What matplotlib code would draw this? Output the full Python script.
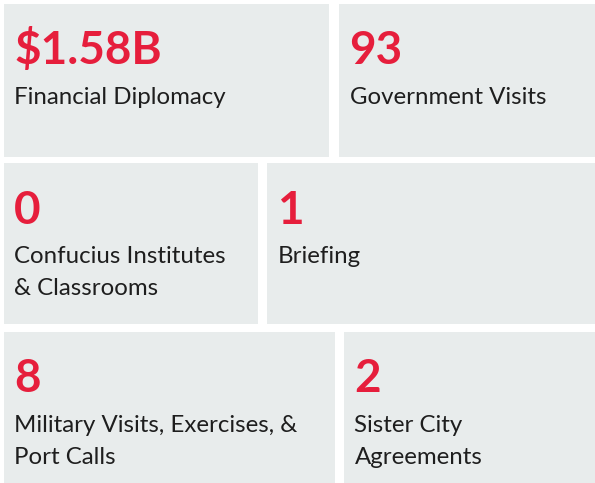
import matplotlib.pyplot as plt
from matplotlib.patches import Rectangle

values = ["$1.58B", "93", "0", "1", "8", "2"]
labels = [
    ["Financial Diplomacy"],
    ["Government Visits"],
    ["Confucius Institutes", "& Classrooms"],
    ["Briefing"],
    ["Military Visits, Exercises, &", "Port Calls"],
    ["Sister City", "Agreements"],
]

# tile boxes in pixels: x, y (from top), width, height
tiles = [
    (4, 4, 325, 153), (339, 4, 256, 153),
    (4, 163, 254, 161), (267, 163, 328, 161),
    (4, 332, 331, 151), (344, 332, 251, 151),
]

RED = "#E61E3C"
GRAY = "#E8ECEC"
TEXT = "#1E1E1E"

plt.rcParams['font.family'] = ['Lato', 'DejaVu Sans']

fig = plt.figure(figsize=(5.95, 4.83), dpi=100)
ax = fig.add_axes([0, 0, 1, 1])
ax.set_xlim(0, 595)
ax.set_ylim(483, 0)
ax.axis("off")

for (x, y, w, h), val, lines in zip(tiles, values, labels):
    ax.add_patch(Rectangle((x, y), w, h, facecolor=GRAY, edgecolor="none"))
    ax.text(x + 10, y + 60.5, val, color=RED, fontsize=33, fontweight="bold",
            va="baseline", ha="left")
    for i, line in enumerate(lines):
        ax.text(x + 10.5, y + 100 + 31.7 * i, line, color=TEXT, fontsize=17.3,
                va="baseline", ha="left")

fig.savefig("out.png", dpi=100)
